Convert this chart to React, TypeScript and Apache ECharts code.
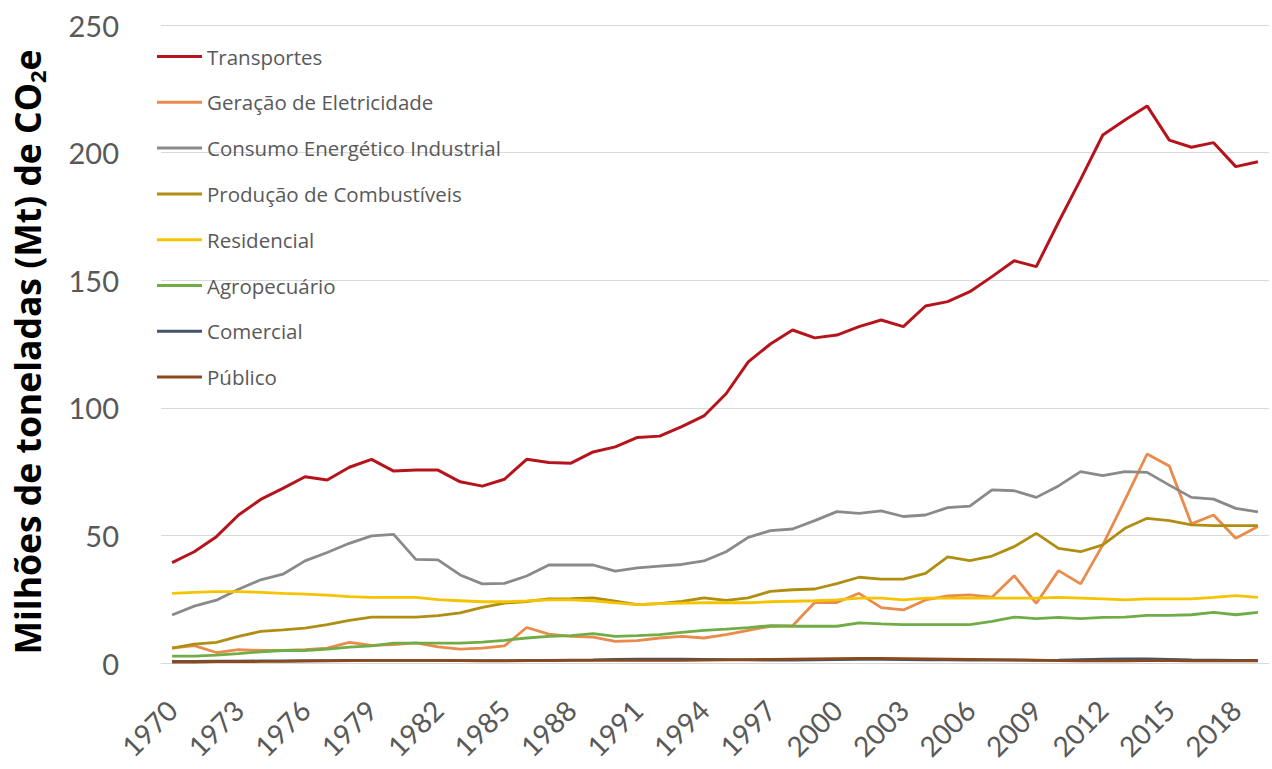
import React, { useEffect, useRef } from "react";
import * as echarts from "echarts";

const years: string[] = [];
for (let y = 1970; y <= 2019; y++) years.push(String(y));

const seriesNames = [
  "Transportes",
  "Geração de Eletricidade",
  "Consumo Energético Industrial",
  "Produção de Combustíveis",
  "Residencial",
  "Agropecuário",
  "Comercial",
  "Público",
];

const colors = ["#B5141C", "#E98B4B", "#8A8A8A", "#B08E12", "#F5C300", "#70AD47", "#44546A", "#8B4A1E"];

const transportes = [
  39.3, 43.6, 49.5, 58.0, 64.1, 68.4, 73.0, 71.7, 76.7, 79.8,
  75.2, 75.6, 75.6, 71.0, 69.3, 72.0, 79.8, 78.6, 78.3, 82.7,
  84.7, 88.4, 88.9, 92.6, 96.8, 105.5, 118.0, 125.0, 130.5, 127.4,
  128.5, 131.8, 134.4, 131.8, 139.9, 141.6, 145.5, 151.4, 157.6, 155.3,
  172.7, 189.5, 206.9, 212.8, 218.3, 204.9, 202.1, 203.9, 194.5, 196.4,
];

const geracao = [
  5.8, 6.8, 4.1, 5.2, 4.9, 4.9, 5.2, 5.8, 8.1, 6.9,
  7.2, 7.9, 6.3, 5.4, 5.8, 6.7, 13.9, 11.3, 10.4, 10.1,
  8.5, 8.8, 9.8, 10.4, 9.8, 11.1, 12.8, 14.4, 14.6, 23.7,
  23.7, 27.3, 21.7, 20.8, 24.7, 26.3, 26.7, 25.8, 34.2, 23.4,
  36.2, 31.0, 46.3, 63.9, 81.9, 77.2, 54.5, 58.0, 48.9, 53.5,
];

const industrial = [
  18.8, 22.3, 24.6, 28.9, 32.6, 34.8, 40.0, 43.3, 46.9, 49.8,
  50.4, 40.6, 40.4, 34.5, 31.0, 31.2, 34.1, 38.4, 38.4, 38.4,
  36.0, 37.3, 38.0, 38.6, 40.0, 43.6, 49.2, 51.9, 52.5, 55.8,
  59.3, 58.6, 59.6, 57.4, 58.0, 60.9, 61.5, 67.8, 67.5, 64.9,
  69.4, 75.0, 73.4, 75.0, 74.7, 69.7, 64.9, 64.2, 60.6, 59.2,
];

const combustiveis = [
  5.8, 7.4, 8.1, 10.4, 12.4, 13.0, 13.7, 15.0, 16.7, 18.0,
  18.0, 18.0, 18.6, 19.6, 21.8, 23.5, 24.1, 25.1, 25.2, 25.5,
  24.2, 22.9, 23.3, 24.1, 25.5, 24.5, 25.5, 28.1, 28.7, 29.0,
  31.1, 33.6, 32.9, 32.9, 35.1, 41.6, 40.1, 41.9, 45.6, 50.8,
  44.9, 43.6, 46.3, 52.8, 56.7, 55.8, 54.1, 53.8, 53.8, 53.8,
];

const residencial = [
  27.3, 27.7, 28.0, 28.0, 27.7, 27.3, 27.0, 26.6, 26.0, 25.7,
  25.7, 25.7, 24.8, 24.4, 24.0, 24.0, 24.3, 24.7, 24.7, 24.4,
  23.6, 22.9, 23.3, 23.5, 23.6, 23.6, 23.6, 24.0, 24.2, 24.4,
  24.7, 25.4, 25.4, 24.7, 25.4, 25.4, 25.4, 25.4, 25.4, 25.4,
  25.7, 25.4, 25.1, 24.7, 25.1, 25.1, 25.1, 25.7, 26.4, 25.7,
];

const agropecuario = [
  2.7, 2.7, 3.1, 3.7, 4.4, 4.9, 4.9, 5.4, 6.2, 6.7,
  7.8, 7.8, 7.8, 7.8, 8.2, 8.9, 9.8, 10.4, 10.7, 11.5,
  10.4, 10.7, 11.1, 12.0, 12.8, 13.3, 13.9, 14.6, 14.4, 14.4,
  14.4, 15.7, 15.3, 15.0, 15.0, 15.0, 15.0, 16.3, 18.0, 17.4,
  17.9, 17.4, 17.9, 18.0, 18.7, 18.7, 18.9, 19.8, 18.9, 19.8,
];

const comercial = [
  0.6, 0.6, 0.7, 0.7, 0.8, 0.8, 0.9, 0.9, 1.0, 1.0,
  1.0, 1.0, 1.0, 0.9, 0.9, 0.9, 1.0, 1.0, 1.1, 1.2,
  1.4, 1.5, 1.5, 1.5, 1.4, 1.3, 1.2, 1.1, 1.1, 1.2,
  1.3, 1.4, 1.4, 1.3, 1.2, 1.2, 1.1, 1.1, 1.1, 1.0,
  1.1, 1.3, 1.5, 1.6, 1.6, 1.4, 1.2, 1.1, 1.0, 1.0,
];

const publico = [
  0.4, 0.4, 0.5, 0.5, 0.6, 0.6, 0.7, 0.8, 0.9, 1.0,
  1.0, 1.0, 1.0, 0.9, 0.8, 0.8, 0.9, 0.9, 1.0, 1.0,
  1.0, 1.0, 1.0, 1.0, 1.1, 1.2, 1.3, 1.4, 1.5, 1.6,
  1.7, 1.8, 1.8, 1.7, 1.6, 1.5, 1.4, 1.3, 1.2, 1.1,
  0.9, 0.8, 0.8, 0.8, 0.9, 0.9, 0.8, 0.8, 0.8, 0.8,
];

const allData = [transportes, geracao, industrial, combustiveis, residencial, agropecuario, comercial, publico];

const yTicks = { min: 0, max: 250, interval: 50 };

const NUM_FONT = "Lato, 'Open Sans', sans-serif";
const TXT_FONT = "'Open Sans', Lato, sans-serif";

export default function App() {
  const ref = useRef<HTMLDivElement>(null);
  useEffect(() => {
    if (!ref.current) return;
    const chart = echarts.init(ref.current, undefined, { renderer: "svg" });
    chart.setOption({
      animation: false,
      backgroundColor: "#ffffff",
      color: colors,
      textStyle: { fontFamily: TXT_FONT },
      grid: { left: 161, right: 3, top: 25, bottom: 106, containLabel: false },
      legend: {
        orient: "vertical",
        left: 157,
        top: 46,
        padding: 0,
        icon: "rect",
        itemWidth: 45,
        itemHeight: 3,
        itemGap: 24.8,
        data: seriesNames,
        textStyle: { color: "#595959", fontSize: 20.5, lineHeight: 20, fontFamily: TXT_FONT },
      },
      xAxis: {
        type: "category",
        data: years,
        boundaryGap: true,
        axisLine: { show: true, lineStyle: { color: "#d9d9d9", width: 1 } },
        axisTick: { show: false },
        axisLabel: {
          interval: 2,
          rotate: 45,
          margin: 42,
          color: "#595959",
          fontSize: 28,
          fontFamily: NUM_FONT,
        },
      },
      yAxis: {
        type: "value",
        min: yTicks.min,
        max: yTicks.max,
        interval: yTicks.interval,
        axisLine: { show: false },
        axisTick: { show: false },
        splitLine: { lineStyle: { color: "#d9d9d9", width: 1 } },
        axisLabel: { color: "#595959", fontSize: 29, margin: 42, fontFamily: NUM_FONT },
      },
      graphic: [
        {
          type: "text",
          x: 27,
          y: 352,
          rotation: Math.PI / 2,
          style: {
            text: "{a|Milhões de toneladas (Mt) de CO}{b|2}{a|e}",
            align: "center",
            verticalAlign: "middle",
            fill: "#000",
            rich: {
              a: { fontSize: 35.5, fontWeight: "bold", fontFamily: TXT_FONT, fill: "#000", lineHeight: 42 },
              b: { fontSize: 22, fontWeight: "bold", fontFamily: TXT_FONT, fill: "#000", verticalAlign: "bottom", lineHeight: 42 },
            },
          },
        },
      ],
      series: seriesNames.map((name, i) => ({
        name,
        type: "line",
        data: allData[i],
        showSymbol: false,
        symbol: "none",
        lineStyle: { width: i === 0 ? 3 : 2.8, color: colors[i] },
        itemStyle: { color: colors[i] },
        z: 2 + i,
      })),
    });
    return () => chart.dispose();
  }, []);
  return <div ref={ref} style={{ position: "fixed", left: 0, top: 0, width: 1272, height: 769 }} />;
}
